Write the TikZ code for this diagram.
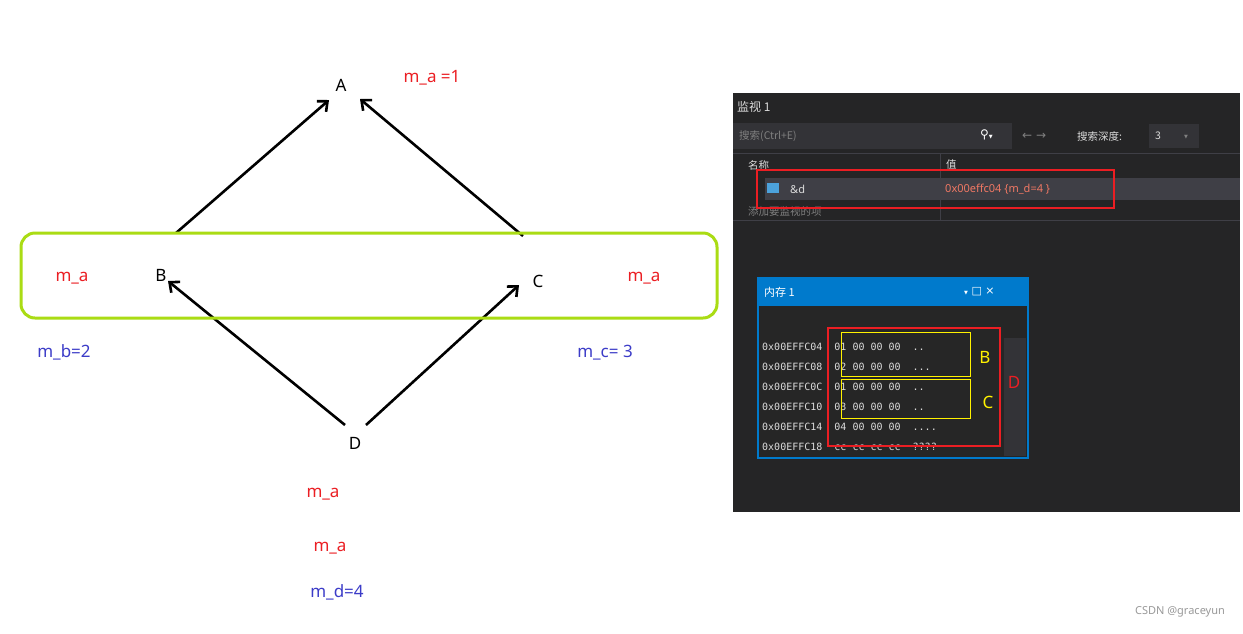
\documentclass[tikz,border=0pt]{standalone}
\usepackage{fontspec}
\setmainfont{Noto Sans}
\newfontfamily\cjk{Noto Sans CJK SC}
\newfontfamily\mono{DejaVu Sans Mono}
\newfontfamily\djv{DejaVu Sans}
\usetikzlibrary{arrows.meta}
\definecolor{lred}{RGB}{235,30,35}
\definecolor{lblue}{RGB}{60,60,200}
\definecolor{lgreen}{RGB}{170,220,20}
\definecolor{vsbg}{RGB}{37,37,38}
\definecolor{vsbox}{RGB}{51,51,55}
\definecolor{vsrow}{RGB}{63,63,70}
\definecolor{vsblue}{RGB}{0,122,204}
\definecolor{vstxt}{RGB}{220,220,220}
\definecolor{vsval}{RGB}{240,120,100}
\begin{document}
\begin{tikzpicture}[x=1pt,y=-1pt,
  lab/.style={font=\fontsize{17}{17}\selectfont},
  rl/.style={lab,text=lred},
  bl/.style={lab,text=lblue},
  pt/.style={lab,text=black},
  arr/.style={line width=2.6pt,-{Straight Barb[length=8pt,width=14pt]}},
  ui/.style={font=\cjk\fontsize{10.5}{10.5}\selectfont,text=vstxt,anchor=west,inner sep=0},
  mem/.style={font=\mono\fontsize{10}{10}\selectfont,text=vstxt,anchor=west,inner sep=0}]
\useasboundingbox (0,0) rectangle (1243,633);
\fill[white] (0,0) rectangle (1243,633);
% left diagram
\node[pt] (A) at (341,85) {A};
\node[rl] (ma1) at (432,78) {m\_a =1};
\node[pt] (B) at (161,275) {B};
\node[pt] (C) at (538,281) {C};
\node[pt] (D) at (355,443) {D};
\coordinate (bA) at (176,233); \coordinate (aB) at (329,100);
\coordinate (cA) at (523,236); \coordinate (aC) at (360,99);
\coordinate (dB) at (345,425); \coordinate (bD) at (168,281);
\coordinate (dC) at (366,425); \coordinate (cD) at (519,285);
\draw[arr] (bA) -- (aB);
\draw[arr] (cA) -- (aC);
\draw[arr] (dB) -- (bD);
\draw[arr] (dC) -- (cD);
\draw[lgreen,line width=3pt,rounded corners=14pt] (21,233) rectangle (717,318);
\node[rl] (mab) at (72,278) {m\_a};
\node[rl] (mac) at (644,278) {m\_a};
\node[bl] (mb) at (64,352) {m\_b=2};
\node[bl] (mc) at (605,353) {m\_c= 3};
\node[rl] (md1) at (323,494) {m\_a};
\node[rl] (md2) at (330,548) {m\_a};
\node[bl] (md) at (337,592) {m\_d=4};
% watch panel
\fill[vsbg] (733,93) rectangle (1240,512);
\node[ui,font=\cjk\fontsize{12}{12}\selectfont] (wt) at (737,107) {监视 1};
\fill[vsbox] (733,123) rectangle (1012,149);
\node[ui,text=gray] (srch) at (739,136) {搜索(Ctrl+E)};
\node[ui,text=white,font=\djv\fontsize{12}{12}\selectfont] (mag) at (980,135) {⚲\tiny▼};
\node[ui,text=gray,font=\djv\fontsize{12}{12}\selectfont] (arrs) at (1022,136) {← →};
\node[ui] (depth) at (1077,136) {搜索深度:};
\fill[vsbox] (1149,124) rectangle (1199,148);
\node[ui] (three) at (1155,136) {3};
\node[ui,text=gray,font=\djv\fontsize{5}{5}\selectfont] (dd) at (1184,137) {▼};
\draw[vsrow] (733,153) -- (1240,153);
\draw[vsrow] (940,153) -- (940,220);
\node[ui] (nm) at (748,165) {名称};
\node[ui] (val) at (946,165) {值};
\fill[vsrow] (765,178) rectangle (1240,200);
\fill[vsblue!70!white] (767,183) rectangle (779,193);
\node[ui,font=\fontsize{11}{11}\selectfont] (dref) at (790,189) {\&d};
\node[ui,text=vsval,font=\fontsize{11}{11}\selectfont] (dval) at (945,189) {0x00effc04 \{m\_d=4 \}};
\node[ui,text=gray,font=\cjk\fontsize{10.5}{10.5}\selectfont] (add) at (748,211) {添加要监视的项};
\draw[vsrow] (733,220) -- (1240,220);
\draw[lred,line width=1.5pt] (757,170) rectangle (1114,208);
% memory window
\fill[vsblue] (758,278) rectangle (1028,306);
\fill[black!85] (760,306) rectangle (1026,456);
\draw[vsblue,line width=1.5pt] (758,278) rectangle (1028,458);
\node[ui,text=white,font=\cjk\fontsize{11}{11}\selectfont] (mt) at (764,292) {内存 1};
\node[ui,text=white,font=\djv\fontsize{11}{11}\selectfont] (mx) at (964,292) {{\tiny▼}\ □\ ×};
\fill[vsbox] (1004,338) rectangle (1026,456);
\node[mem] (r1) at (762,347) {0x00EFFC04\ \ 01 00 00 00\ \ ..};
\node[mem] (r2) at (762,367) {0x00EFFC08\ \ 02 00 00 00\ \ ...};
\node[mem] (r3) at (762,387) {0x00EFFC0C\ \ 01 00 00 00\ \ ..};
\node[mem] (r4) at (762,407) {0x00EFFC10\ \ 03 00 00 00\ \ ..};
\node[mem] (r5) at (762,427) {0x00EFFC14\ \ 04 00 00 00\ \ ....};
\node[mem] (r6) at (762,447) {0x00EFFC18\ \ cc cc cc cc\ \ ????};
\draw[lred,line width=1.8pt] (828,328) rectangle (1000,446);
\draw[yellow,line width=0.8pt] (841,332) rectangle (970,376);
\draw[yellow,line width=0.8pt] (841,379) rectangle (970,418);
\node[text=yellow,font=\fontsize{17}{17}\selectfont] (Bl) at (985,357) {B};
\node[text=yellow,font=\fontsize{17}{17}\selectfont] (Cl) at (988,402) {C};
\node[text=lred,font=\fontsize{17}{17}\selectfont] (Dl) at (1014,382) {D};
\node[text=gray!80,font=\fontsize{11}{11}\selectfont] (csdn) at (1180,612) {CSDN @graceyun};
\end{tikzpicture}
\end{document}
